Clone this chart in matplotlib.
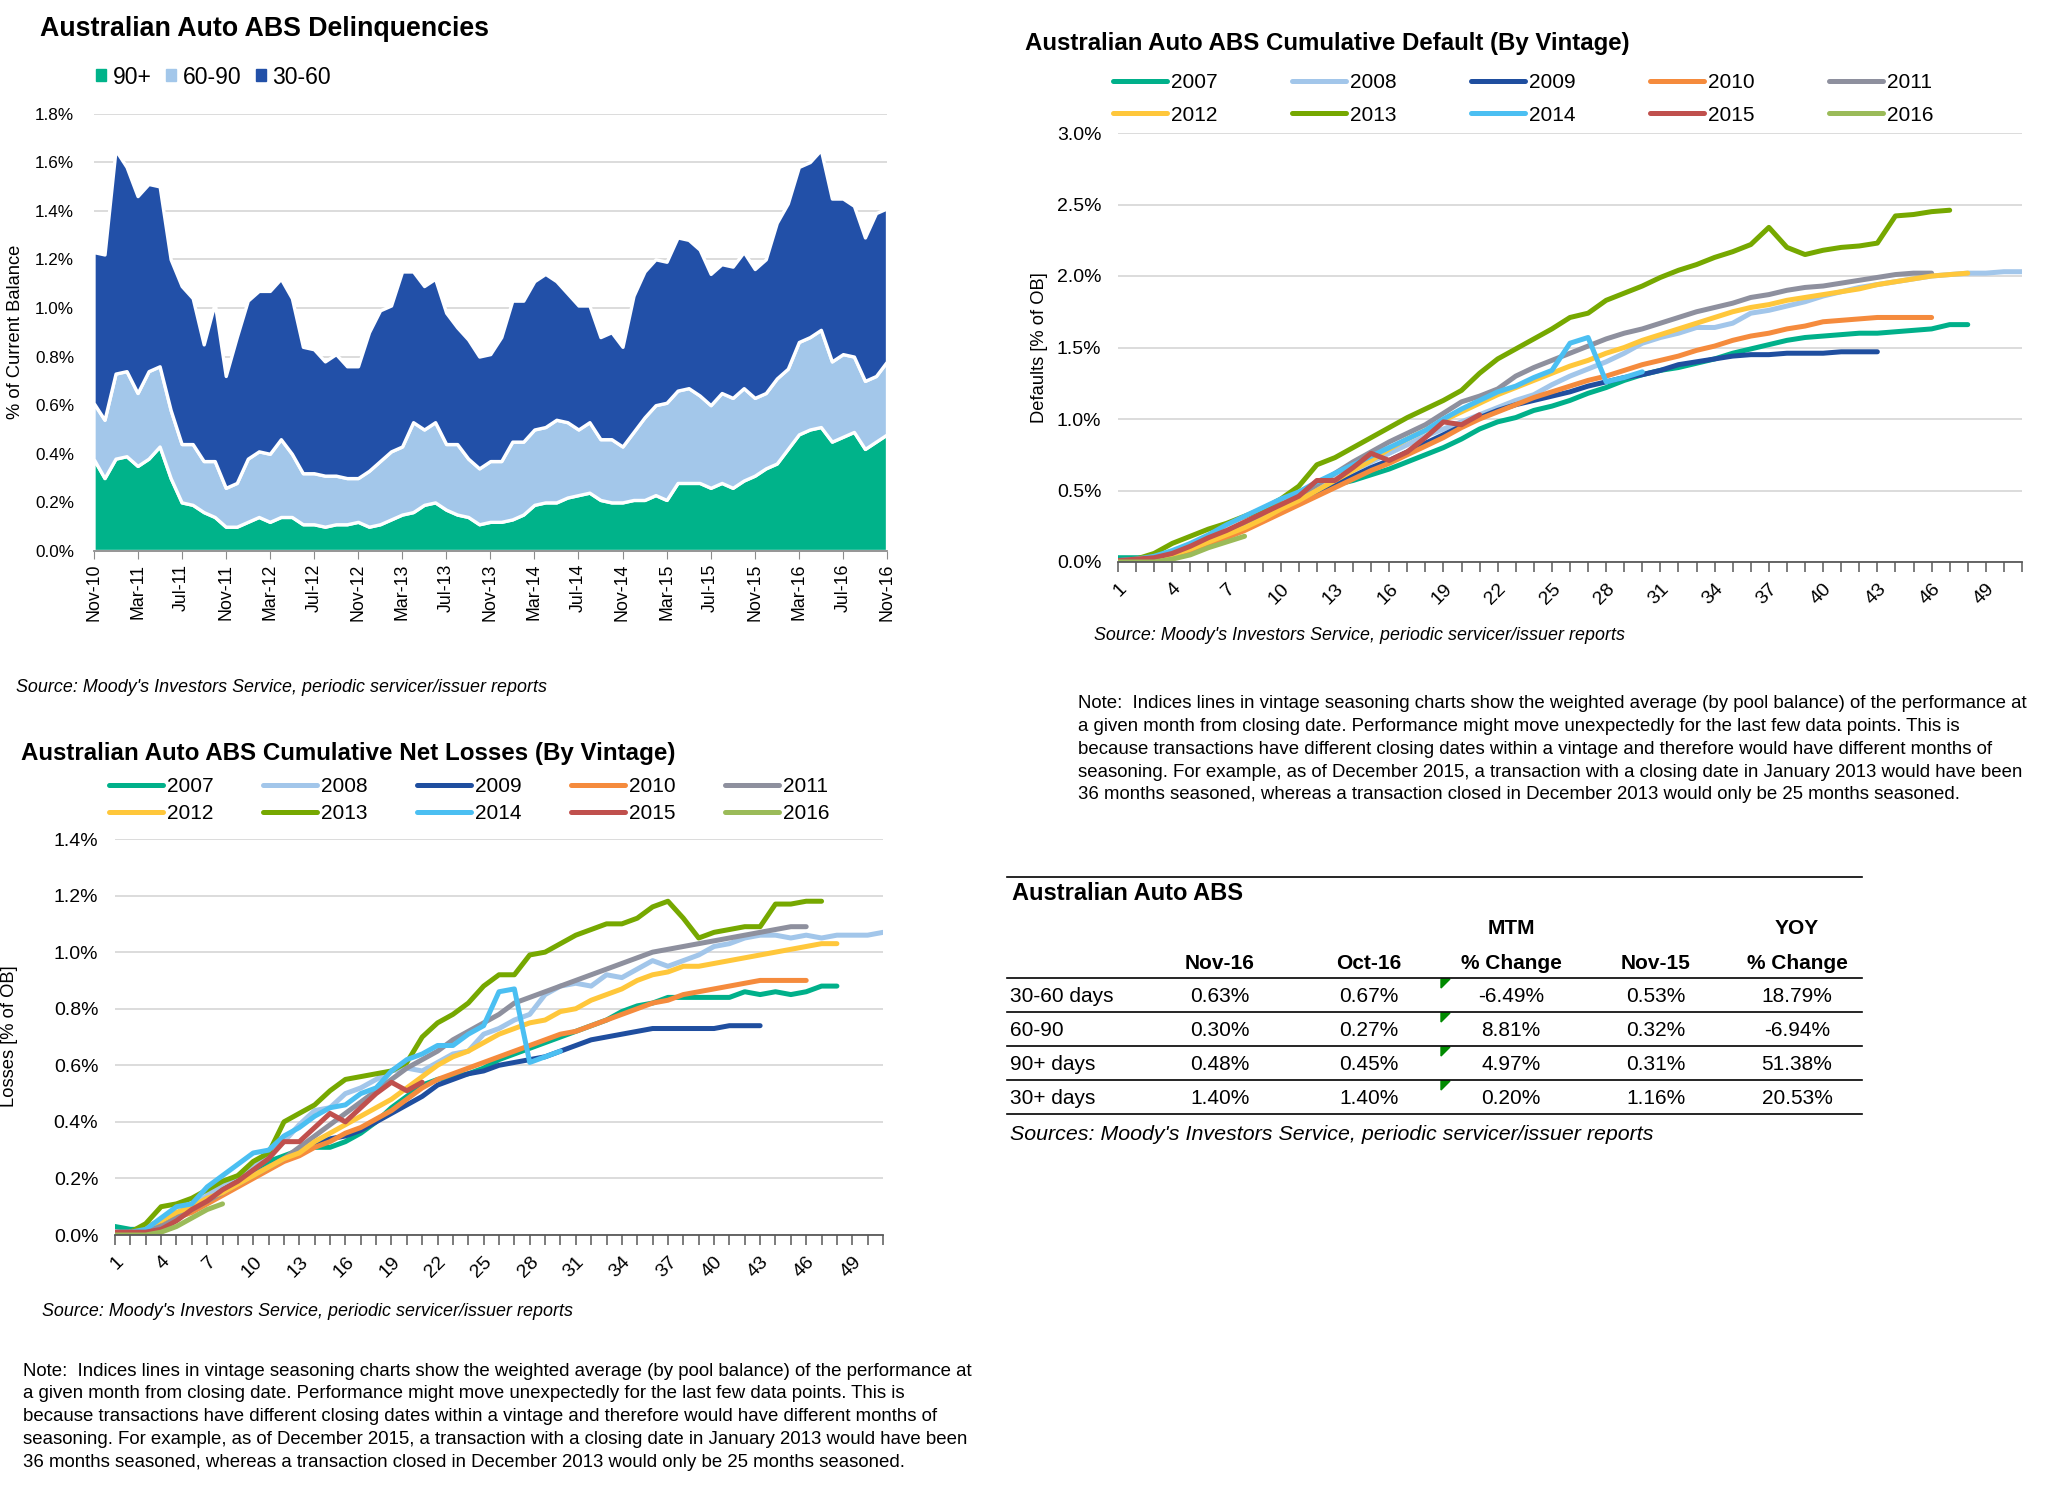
import numpy as np
import matplotlib
matplotlib.use('Agg')
import matplotlib.pyplot as plt
from matplotlib.lines import Line2D
from matplotlib.patches import Patch, Polygon

plt.rcParams['font.family'] = ['Liberation Sans', 'DejaVu Sans']

W, H = 2049, 1486

# ---------------- data: delinquencies (% of current balance), Nov-10 .. Nov-16
month_labels = ['Nov-10', 'Mar-11', 'Jul-11', 'Nov-11', 'Mar-12', 'Jul-12', 'Nov-12',
                'Mar-13', 'Jul-13', 'Nov-13', 'Mar-14', 'Jul-14', 'Nov-14', 'Mar-15',
                'Jul-15', 'Nov-15', 'Mar-16', 'Jul-16', 'Nov-16']

d90 = [0.38, 0.30, 0.38, 0.39, 0.35, 0.38, 0.43, 0.30, 0.20, 0.19,
       0.16, 0.14, 0.10, 0.10, 0.12, 0.14, 0.12, 0.14, 0.14, 0.11,
       0.11, 0.10, 0.11, 0.11, 0.12, 0.10, 0.11, 0.13, 0.15, 0.16,
       0.19, 0.20, 0.17, 0.15, 0.14, 0.11, 0.12, 0.12, 0.13, 0.15,
       0.19, 0.20, 0.20, 0.22, 0.23, 0.24, 0.21, 0.20, 0.20, 0.21,
       0.21, 0.23, 0.21, 0.28, 0.28, 0.28, 0.26, 0.28, 0.26, 0.29,
       0.31, 0.34, 0.36, 0.42, 0.48, 0.50, 0.51, 0.45, 0.47, 0.49,
       0.42, 0.45, 0.48]
d60 = [0.23, 0.24, 0.35, 0.35, 0.30, 0.36, 0.33, 0.28, 0.24, 0.25,
       0.21, 0.23, 0.16, 0.18, 0.26, 0.27, 0.28, 0.32, 0.26, 0.21,
       0.21, 0.21, 0.20, 0.19, 0.18, 0.23, 0.26, 0.28, 0.28, 0.37,
       0.31, 0.33, 0.27, 0.29, 0.24, 0.23, 0.25, 0.25, 0.32, 0.30,
       0.31, 0.31, 0.34, 0.31, 0.27, 0.29, 0.25, 0.26, 0.23, 0.28,
       0.34, 0.37, 0.40, 0.38, 0.39, 0.36, 0.34, 0.37, 0.37, 0.38,
       0.32, 0.31, 0.35, 0.33, 0.38, 0.38, 0.40, 0.33, 0.34, 0.31,
       0.28, 0.27, 0.30]
d30 = [0.62, 0.68, 0.92, 0.84, 0.81, 0.77, 0.74, 0.62, 0.65, 0.60,
       0.48, 0.65, 0.46, 0.60, 0.65, 0.66, 0.67, 0.66, 0.64, 0.52,
       0.51, 0.47, 0.50, 0.46, 0.46, 0.57, 0.62, 0.60, 0.72, 0.62,
       0.59, 0.59, 0.54, 0.48, 0.49, 0.46, 0.44, 0.51, 0.58, 0.58,
       0.61, 0.63, 0.57, 0.53, 0.51, 0.48, 0.42, 0.44, 0.41, 0.56,
       0.60, 0.60, 0.58, 0.63, 0.61, 0.60, 0.54, 0.53, 0.54, 0.56,
       0.53, 0.55, 0.64, 0.68, 0.72, 0.72, 0.74, 0.67, 0.64, 0.62,
       0.59, 0.67, 0.63]

# ---------------- data: cumulative default by vintage (% of OB), month 1..
dflt_2007 = [0.03, 0.03, 0.03, 0.06, 0.10, 0.15, 0.20, 0.25, 0.30, 0.36, 0.43, 0.50, 0.54, 0.57, 0.61, 0.65,
             0.70, 0.75, 0.80, 0.86, 0.93, 0.98, 1.01, 1.06, 1.09, 1.13, 1.18, 1.22, 1.27, 1.31, 1.34, 1.36,
             1.39, 1.42, 1.46, 1.49, 1.52, 1.55, 1.57, 1.58, 1.59, 1.60, 1.60, 1.61, 1.62, 1.63, 1.66, 1.66]
dflt_2008 = [0.00, 0.01, 0.02, 0.05, 0.09, 0.14, 0.19, 0.25, 0.31, 0.37, 0.44, 0.51, 0.58, 0.64, 0.70, 0.76,
             0.82, 0.88, 0.93, 0.98, 1.03, 1.08, 1.13, 1.17, 1.24, 1.30, 1.35, 1.40, 1.46, 1.53, 1.57, 1.60,
             1.64, 1.64, 1.67, 1.74, 1.76, 1.79, 1.82, 1.86, 1.89, 1.92, 1.94, 1.96, 1.98, 2.00, 2.01, 2.02,
             2.02, 2.03, 2.03]
dflt_2009 = [0.00, 0.00, 0.02, 0.05, 0.09, 0.14, 0.19, 0.24, 0.30, 0.36, 0.42, 0.48, 0.54, 0.60, 0.66, 0.71,
             0.77, 0.83, 0.89, 0.95, 1.01, 1.06, 1.10, 1.13, 1.16, 1.19, 1.23, 1.26, 1.29, 1.31, 1.34, 1.38,
             1.40, 1.42, 1.44, 1.45, 1.45, 1.46, 1.46, 1.46, 1.47, 1.47, 1.47]
dflt_2010 = [0.00, 0.00, 0.01, 0.04, 0.08, 0.12, 0.17, 0.22, 0.28, 0.34, 0.40, 0.46, 0.52, 0.58, 0.64, 0.69,
             0.75, 0.81, 0.87, 0.94, 1.00, 1.05, 1.10, 1.15, 1.19, 1.23, 1.27, 1.30, 1.34, 1.38, 1.41, 1.44,
             1.48, 1.51, 1.55, 1.58, 1.60, 1.63, 1.65, 1.68, 1.69, 1.70, 1.71, 1.71, 1.71, 1.71]
dflt_2011 = [0.01, 0.01, 0.02, 0.05, 0.10, 0.15, 0.21, 0.27, 0.33, 0.40, 0.46, 0.54, 0.62, 0.70, 0.77, 0.84,
             0.90, 0.96, 1.04, 1.12, 1.16, 1.21, 1.30, 1.36, 1.41, 1.46, 1.51, 1.56, 1.60, 1.63, 1.67, 1.71,
             1.75, 1.78, 1.81, 1.85, 1.87, 1.90, 1.92, 1.93, 1.95, 1.97, 1.99, 2.01, 2.02, 2.02]
dflt_2012 = [0.00, 0.00, 0.02, 0.05, 0.09, 0.14, 0.19, 0.24, 0.30, 0.37, 0.43, 0.50, 0.57, 0.64, 0.71, 0.79,
             0.86, 0.92, 0.99, 1.05, 1.11, 1.17, 1.22, 1.27, 1.32, 1.37, 1.41, 1.46, 1.50, 1.55, 1.59, 1.63,
             1.67, 1.71, 1.75, 1.78, 1.80, 1.83, 1.85, 1.87, 1.89, 1.91, 1.94, 1.96, 1.98, 2.00, 2.01, 2.02]
dflt_2013 = [0.00, 0.02, 0.06, 0.13, 0.18, 0.23, 0.27, 0.32, 0.37, 0.44, 0.53, 0.68, 0.73, 0.80, 0.87, 0.94,
             1.01, 1.07, 1.13, 1.20, 1.32, 1.42, 1.49, 1.56, 1.63, 1.71, 1.74, 1.83, 1.88, 1.93, 1.99, 2.04,
             2.08, 2.13, 2.17, 2.22, 2.34, 2.20, 2.15, 2.18, 2.20, 2.21, 2.23, 2.42, 2.43, 2.45, 2.46]
dflt_2014 = [0.01, 0.02, 0.04, 0.08, 0.13, 0.19, 0.26, 0.32, 0.38, 0.44, 0.49, 0.56, 0.62, 0.68, 0.74, 0.80,
             0.86, 0.92, 1.00, 1.07, 1.13, 1.19, 1.23, 1.29, 1.34, 1.53, 1.57, 1.26, 1.29, 1.33]
dflt_2015 = [0.01, 0.02, 0.03, 0.06, 0.11, 0.17, 0.22, 0.28, 0.34, 0.40, 0.46, 0.57, 0.57, 0.66, 0.76, 0.71,
             0.77, 0.87, 0.98, 0.96, 1.03]
dflt_2016 = [0.00, 0.00, 0.00, 0.02, 0.05, 0.10, 0.14, 0.18]

# ---------------- data: cumulative net losses by vintage (% of OB)
loss_2007 = [0.03, 0.02, 0.02, 0.04, 0.07, 0.10, 0.13, 0.16, 0.19, 0.23, 0.26, 0.28, 0.30, 0.31, 0.31, 0.33,
             0.36, 0.40, 0.45, 0.49, 0.53, 0.55, 0.56, 0.57, 0.59, 0.62, 0.64, 0.66, 0.68, 0.70, 0.72, 0.74,
             0.76, 0.79, 0.81, 0.82, 0.84, 0.84, 0.84, 0.84, 0.84, 0.86, 0.85, 0.86, 0.85, 0.86, 0.88, 0.88]
loss_2008 = [0.00, 0.01, 0.02, 0.04, 0.07, 0.10, 0.14, 0.18, 0.21, 0.25, 0.29, 0.33, 0.39, 0.44, 0.45, 0.50,
             0.52, 0.55, 0.58, 0.59, 0.58, 0.61, 0.64, 0.65, 0.71, 0.73, 0.76, 0.78, 0.85, 0.88, 0.89, 0.88,
             0.92, 0.91, 0.94, 0.97, 0.95, 0.97, 0.99, 1.02, 1.03, 1.05, 1.06, 1.06, 1.05, 1.06, 1.05, 1.06,
             1.06, 1.06, 1.07]
loss_2009 = [0.00, 0.01, 0.02, 0.04, 0.06, 0.09, 0.12, 0.15, 0.18, 0.21, 0.24, 0.27, 0.29, 0.32, 0.34, 0.35,
             0.37, 0.40, 0.43, 0.46, 0.49, 0.53, 0.55, 0.57, 0.58, 0.60, 0.61, 0.62, 0.63, 0.65, 0.67, 0.69,
             0.70, 0.71, 0.72, 0.73, 0.73, 0.73, 0.73, 0.73, 0.74, 0.74, 0.74]
loss_2010 = [0.00, 0.01, 0.02, 0.03, 0.06, 0.08, 0.11, 0.14, 0.17, 0.20, 0.23, 0.26, 0.28, 0.31, 0.33, 0.36,
             0.38, 0.41, 0.44, 0.48, 0.52, 0.55, 0.57, 0.59, 0.61, 0.63, 0.65, 0.67, 0.69, 0.71, 0.72, 0.74,
             0.76, 0.78, 0.80, 0.82, 0.83, 0.85, 0.86, 0.87, 0.88, 0.89, 0.90, 0.90, 0.90, 0.90]
loss_2011 = [0.01, 0.01, 0.02, 0.03, 0.06, 0.09, 0.12, 0.15, 0.18, 0.21, 0.24, 0.27, 0.31, 0.35, 0.39, 0.43,
             0.47, 0.51, 0.55, 0.59, 0.62, 0.65, 0.69, 0.72, 0.75, 0.78, 0.82, 0.84, 0.86, 0.88, 0.90, 0.92,
             0.94, 0.96, 0.98, 1.00, 1.01, 1.02, 1.03, 1.04, 1.05, 1.06, 1.07, 1.08, 1.09, 1.09]
loss_2012 = [0.00, 0.01, 0.03, 0.05, 0.08, 0.10, 0.13, 0.15, 0.18, 0.21, 0.24, 0.27, 0.29, 0.33, 0.36, 0.39,
             0.42, 0.45, 0.48, 0.52, 0.56, 0.60, 0.63, 0.65, 0.68, 0.71, 0.73, 0.75, 0.76, 0.79, 0.80, 0.83,
             0.85, 0.87, 0.90, 0.92, 0.93, 0.95, 0.95, 0.96, 0.97, 0.98, 0.99, 1.00, 1.01, 1.02, 1.03, 1.03]
loss_2013 = [0.00, 0.01, 0.04, 0.10, 0.11, 0.13, 0.16, 0.19, 0.21, 0.26, 0.29, 0.40, 0.43, 0.46, 0.51, 0.55,
             0.56, 0.57, 0.58, 0.61, 0.70, 0.75, 0.78, 0.82, 0.88, 0.92, 0.92, 0.99, 1.00, 1.03, 1.06, 1.08,
             1.10, 1.10, 1.12, 1.16, 1.18, 1.12, 1.05, 1.07, 1.08, 1.09, 1.09, 1.17, 1.17, 1.18, 1.18]
loss_2014 = [0.01, 0.01, 0.02, 0.06, 0.10, 0.11, 0.17, 0.21, 0.25, 0.29, 0.30, 0.35, 0.38, 0.42, 0.45, 0.46,
             0.50, 0.52, 0.58, 0.62, 0.64, 0.67, 0.67, 0.71, 0.74, 0.86, 0.87, 0.61, 0.63, 0.65]
loss_2015 = [0.01, 0.01, 0.01, 0.02, 0.05, 0.09, 0.12, 0.16, 0.19, 0.23, 0.27, 0.33, 0.33, 0.38, 0.43, 0.40,
             0.45, 0.50, 0.54, 0.51, 0.54]
loss_2016 = [0.00, 0.00, 0.00, 0.01, 0.03, 0.06, 0.09, 0.11]

vintages = ['2007', '2008', '2009', '2010', '2011', '2012', '2013', '2014', '2015', '2016']
vint_colors = ['#00B08A', '#A2C6EA', '#1F4E9F', '#F58B3D', '#8E909E',
               '#FFC73B', '#76A800', '#4BBFF2', '#C0504D', '#9BBB59']
dflt_series = [dflt_2007, dflt_2008, dflt_2009, dflt_2010, dflt_2011,
               dflt_2012, dflt_2013, dflt_2014, dflt_2015, dflt_2016]
loss_series = [loss_2007, loss_2008, loss_2009, loss_2010, loss_2011,
               loss_2012, loss_2013, loss_2014, loss_2015, loss_2016]

# ---------------- data: summary table
tbl_rows = ['30-60 days', '60-90', '90+ days', '30+ days']
tbl_nov16 = ['0.63%', '0.30%', '0.48%', '1.40%']
tbl_oct16 = ['0.67%', '0.27%', '0.45%', '1.40%']
tbl_mtm = ['-6.49%', '8.81%', '4.97%', '0.20%']
tbl_nov15 = ['0.53%', '0.32%', '0.31%', '1.16%']
tbl_yoy = ['18.79%', '-6.94%', '51.38%', '20.53%']

source_txt = "Source: Moody's Investors Service, periodic servicer/issuer reports"
note_lines = [
    "Note:  Indices lines in vintage seasoning charts show the weighted average (by pool balance) of the performance at",
    "a given month from closing date. Performance might move unexpectedly for the last few data points. This is",
    "because transactions have different closing dates within a vintage and therefore would have different months of",
    "seasoning. For example, as of December 2015, a transaction with a closing date in January 2013 would have been",
    "36 months seasoned, whereas a transaction closed in December 2013 would only be 25 months seasoned.",
]

GRID = '#D9D9D9'
SRC_FS = 12.9
NOTE_FS = 13.4


def fx(x):
    return x / W


def fy(y):
    return 1 - y / H


def rect(l, t, r, b):
    return [l / W, 1 - b / H, (r - l) / W, (b - t) / H]


def pct(v, pos):
    return '%.1f%%' % v


fig = plt.figure(figsize=(W / 100, H / 100), dpi=100)

# ================= Delinquencies stacked area
ax1 = fig.add_axes(rect(93.5, 113.5, 887, 551))
xm = np.arange(len(d90))
ax1.stackplot(xm, d90, d60, d30, colors=['#00B38A', '#A3C7EA', '#2250A8'],
              edgecolor='white', linewidth=2.4)
ax1.set_xlim(0, len(d90) - 1)
ax1.set_ylim(0, 1.8)
ax1.set_yticks(np.arange(0, 1.81, 0.2))
ax1.yaxis.set_major_formatter(plt.FuncFormatter(pct))
ax1.set_xticks(xm[::4])
ax1.set_xticklabels(month_labels, rotation=90)
ax1.set_axisbelow(True)
ax1.yaxis.grid(True, color=GRID, lw=1.3)
for s in ['left', 'top', 'right']:
    ax1.spines[s].set_visible(False)
ax1.spines['bottom'].set_color('#8C8C8C')
ax1.spines['bottom'].set_linewidth(1.3)
ax1.tick_params(axis='y', length=0, pad=14, labelsize=12.3)
ax1.tick_params(axis='x', length=6, color='#8C8C8C', pad=3, labelsize=12.8)
ax1.legend(handles=[Patch(color='#00B38A', label='90+'), Patch(color='#A3C7EA', label='60-90'),
                    Patch(color='#2250A8', label='30-60')],
           loc='center left', bbox_to_anchor=(fx(96), fy(77)), bbox_transform=fig.transFigure,
           ncol=3, frameon=False, fontsize=16.5, handlelength=0.45, handleheight=0.45,
           handletextpad=0.28, columnspacing=0.63, borderpad=0, borderaxespad=0)
fig.text(fx(40), fy(29), 'Australian Auto ABS Delinquencies', fontsize=19.3, fontweight='bold', va='center')
fig.text(fx(16), fy(332), '% of Current Balance', rotation=90, fontsize=13.2, ha='center', va='center')
fig.text(fx(16), fy(688), source_txt, style='italic', fontsize=SRC_FS, va='center')


# ================= vintage line charts
def vintage_chart(rct, series, ymax, leg_xy, leg_cs, leg_ls):
    ax = fig.add_axes(rect(*rct))
    for vals, col, lab in zip(series, vint_colors, vintages):
        m = np.arange(1, len(vals) + 1)
        ax.plot(m, vals, color=col, lw=3.6, label=lab, solid_capstyle='round')
    ax.set_xlim(1, 51)
    ax.set_ylim(0, ymax)
    ax.set_yticks(np.arange(0, ymax + 0.001, 0.5 if ymax > 2 else 0.2))
    ax.yaxis.set_major_formatter(plt.FuncFormatter(pct))
    ax.set_xticks(np.arange(1, 50, 3))
    ax.set_xticks(np.arange(1, 52, 1), minor=True)
    ax.set_xticklabels([str(v) for v in range(1, 50, 3)], rotation=45, ha='right',
                       va='top', rotation_mode='anchor')
    ax.set_axisbelow(True)
    ax.yaxis.grid(True, color=GRID, lw=1.3)
    for s in ['left', 'top', 'right']:
        ax.spines[s].set_visible(False)
    ax.spines['bottom'].set_color('#595959')
    ax.spines['bottom'].set_linewidth(1.3)
    ax.tick_params(axis='y', length=0, pad=12, labelsize=14)
    ax.tick_params(axis='x', which='both', length=7, color='#595959', width=1.1, pad=6, labelsize=14)
    h, l = ax.get_legend_handles_labels()
    order = [0, 5, 1, 6, 2, 7, 3, 8, 4, 9]
    ax.legend([h[i] for i in order], [l[i] for i in order], ncol=5, loc='upper left',
              bbox_to_anchor=(fx(leg_xy[0]), fy(leg_xy[1])), bbox_transform=fig.transFigure,
              frameon=False, fontsize=15, handlelength=2.6, handletextpad=0.2,
              columnspacing=leg_cs, labelspacing=leg_ls, borderpad=0, borderaxespad=0)
    return ax


vintage_chart((1118, 133, 2022, 562), dflt_series, 3.0, (1113, 73.5), 3.55, 0.63)
fig.text(fx(1025), fy(43.5), 'Australian Auto ABS Cumulative Default (By Vintage)',
         fontsize=17.3, fontweight='bold', va='center')
fig.text(fx(1040), fy(348), 'Defaults [% of OB]', rotation=90, fontsize=13.2, ha='center', va='center')
fig.text(fx(1094), fy(635), source_txt, style='italic', fontsize=SRC_FS, va='center')
for i, ln in enumerate(note_lines):
    fig.text(fx(1078), fy(704 + 22.7 * i), ln, fontsize=NOTE_FS, va='center')

vintage_chart((115, 839, 883, 1235), loss_series, 1.4, (109, 777.5), 2.35, 0.35)
fig.text(fx(21), fy(754), 'Australian Auto ABS Cumulative Net Losses (By Vintage)',
         fontsize=17.4, fontweight='bold', va='center')
fig.text(fx(10), fy(1036), 'Losses [% of OB]', rotation=90, fontsize=13.2, ha='center', va='center')
fig.text(fx(42), fy(1311), source_txt, style='italic', fontsize=SRC_FS, va='center')
for i, ln in enumerate(note_lines):
    fig.text(fx(23), fy(1371 + 22.8 * i), ln, fontsize=NOTE_FS, va='center')

# ================= summary table
tx0, tx1 = 1007, 1862


def hline(y):
    fig.add_artist(Line2D([fx(tx0), fx(tx1)], [fy(y), fy(y)], color='black', lw=1.2,
                          transform=fig.transFigure))


hline(877)
fig.text(fx(1012), fy(894), 'Australian Auto ABS', fontsize=17, fontweight='bold', va='center')
col_x = [1220, 1369, 1511, 1656, 1797]
fig.text(fx(col_x[2]), fy(928), 'MTM', fontsize=15, fontweight='bold', ha='center', va='center')
fig.text(fx(col_x[4]), fy(928), 'YOY', fontsize=15, fontweight='bold', ha='center', va='center')
for cx, hd in zip(col_x, ['Nov-16', 'Oct-16', '% Change', 'Nov-15', '% Change']):
    fig.text(fx(cx), fy(963), hd, fontsize=15, fontweight='bold', ha='center', va='center')
hline(978)
row_y = [996, 1030, 1064, 1098]
cols = [tbl_nov16, tbl_oct16, tbl_mtm, tbl_nov15, tbl_yoy]
for r, ry in enumerate(row_y):
    fig.text(fx(1010), fy(ry), tbl_rows[r], fontsize=15, va='center')
    for cx, col in zip(col_x, cols):
        fig.text(fx(cx), fy(ry), col[r], fontsize=15, ha='center', va='center')
    top = ry - 18
    fig.add_artist(Polygon([(fx(1441), fy(top + 1)), (fx(1450), fy(top + 1)), (fx(1441), fy(top + 10))],
                           closed=True, color='#008A00', transform=fig.transFigure))
    hline(ry + 16)
fig.text(fx(1010), fy(1134), "Sources: Moody's Investors Service, periodic servicer/issuer reports",
         style='italic', fontsize=15.4, va='center')

fig.savefig('out.png', dpi=100)
